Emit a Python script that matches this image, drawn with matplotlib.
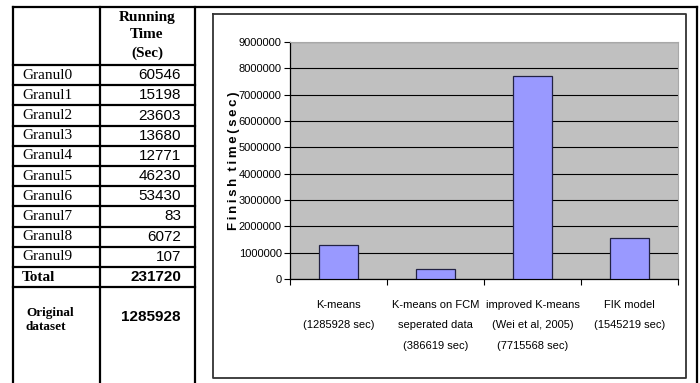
import matplotlib.pyplot as plt
import numpy as np

# table data
granules = ['Granul0', 'Granul1', 'Granul2', 'Granul3', 'Granul4',
            'Granul5', 'Granul6', 'Granul7', 'Granul8', 'Granul9']
run_times = [60546, 15198, 23603, 13680, 12771, 46230, 53430, 83, 6072, 107]
total_time = 231720
original_time = 1285928

# bar chart data
methods = ['K-means\n(1285928 sec)',
           'K-means on FCM\nseperated data\n(386619 sec)',
           'improved K-means\n(Wei et al, 2005)\n(7715568 sec)',
           'FIK model\n(1545219 sec)']
finish_times = [1285928, 386619, 7715568, 1545219]
yticks = np.arange(0, 9000001, 1000000)

serif = ['Liberation Serif', 'DejaVu Serif']
sans = ['Liberation Sans', 'DejaVu Sans']

fig = plt.figure(figsize=(7, 3.83), dpi=100)

# background axes in pixel coordinates for the table and frames
bg = fig.add_axes([0, 0, 1, 1])
bg.set_xlim(0, 700)
bg.set_ylim(383, 0)
bg.axis('off')

lw = 1.6
# outer lines
bg.plot([13, 697], [7, 7], color='black', lw=lw)
bg.plot([13, 13], [7, 383], color='black', lw=lw)
bg.plot([100, 100], [7, 383], color='black', lw=lw)
bg.plot([195, 195], [7, 383], color='black', lw=lw)
bg.plot([697, 697], [7, 383], color='black', lw=lw)

# rows
row_top = 65
row_h = 20.2
for i in range(len(granules) + 2):
    y = row_top + i * row_h
    bg.plot([13, 195], [y, y], color='black', lw=lw)

bg.text(147, 17, 'Running', ha='center', va='center', fontsize=11,
        fontweight='bold', family=serif)
bg.text(147, 35, 'Time', ha='center', va='center', fontsize=11,
        fontweight='bold', family=serif)
bg.text(147, 53, '(Sec)', ha='center', va='center', fontsize=11,
        fontweight='bold', family=serif)

for i, (g, t) in enumerate(zip(granules, run_times)):
    yc = row_top + (i + 0.5) * row_h
    bg.text(22, yc, g, ha='left', va='center', fontsize=11, family=serif)
    bg.text(181, yc, str(t), ha='right', va='center', fontsize=11, family=sans)

yc = row_top + (len(granules) + 0.5) * row_h
bg.text(22, yc, 'Total', ha='left', va='center', fontsize=11,
        fontweight='bold', family=serif)
bg.text(181, yc, str(total_time), ha='right', va='center', fontsize=11,
        fontweight='bold', family=sans)

bg.text(26, 320, 'Original\ndataset', ha='left', va='center', fontsize=9.5,
        fontweight='bold', family=serif, linespacing=1.2)
bg.text(181, 317, str(original_time), ha='right', va='center', fontsize=11,
        fontweight='bold', family=sans)

# chart area frame
bg.plot([213, 686, 686, 213, 213], [14, 14, 378, 378, 14], color='#333333', lw=1.3)

# bar chart
ax = fig.add_axes([290 / 700, (383 - 279) / 383, (678 - 290) / 700, (279 - 42) / 383])
ax.set_facecolor('#c0c0c0')
x = np.arange(len(methods))
ax.bar(x, finish_times, width=0.4, color='#9999ff', edgecolor='#222244',
       linewidth=0.9, zorder=3)
ax.set_xlim(-0.5, len(methods) - 0.5)
ax.set_ylim(0, 9000000)
ax.set_yticks(yticks)
ax.set_yticklabels([str(v) for v in yticks], family=sans, fontsize=8)
ax.yaxis.grid(True, color='black', lw=0.8, zorder=1)
ax.set_axisbelow(True)

ax.set_xticks(x)
ax.set_xticklabels(methods, family=sans, fontsize=8, linespacing=2.3, va='top')
ax.set_xticks(np.arange(len(methods) + 1) - 0.5, minor=True)
ax.tick_params(axis='x', which='major', length=0, pad=15)
ax.tick_params(axis='x', which='minor', length=4, width=0.8)
ax.tick_params(axis='y', length=4, width=0.8, pad=2)

for s in ['top', 'right']:
    ax.spines[s].set_color('#a8a8a8')
for s in ['left', 'bottom']:
    ax.spines[s].set_color('black')
    ax.spines[s].set_linewidth(0.9)

ax.set_ylabel('F\u2009i\u2009n\u2009i\u2009s\u2009h  t\u2009i\u2009m\u2009e\u2009(\u2009s\u2009e\u2009c\u2009)',
              fontsize=9.5, fontweight='bold', family=sans)
ax.yaxis.set_label_coords(-0.13, 0.5)

fig.savefig('out.png', dpi=100)
